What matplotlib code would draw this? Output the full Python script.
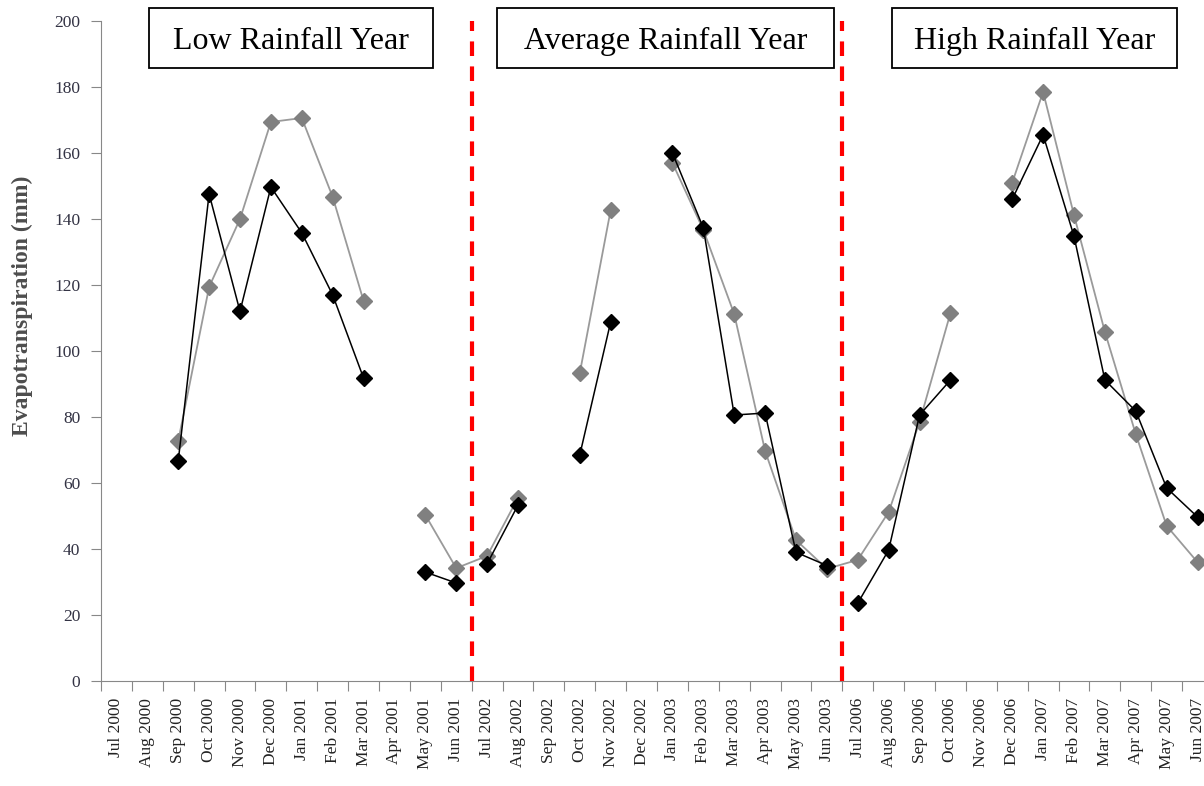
import numpy as np
import matplotlib.pyplot as plt
from matplotlib.patches import Rectangle

months = ["Jul 2000", "Aug 2000", "Sep 2000", "Oct 2000", "Nov 2000", "Dec 2000",
          "Jan 2001", "Feb 2001", "Mar 2001", "Apr 2001", "May 2001", "Jun 2001",
          "Jul 2002", "Aug 2002", "Sep 2002", "Oct 2002", "Nov 2002", "Dec 2002",
          "Jan 2003", "Feb 2003", "Mar 2003", "Apr 2003", "May 2003", "Jun 2003",
          "Jul 2006", "Aug 2006", "Sep 2006", "Oct 2006", "Nov 2006", "Dec 2006",
          "Jan 2007", "Feb 2007", "Mar 2007", "Apr 2007", "May 2007", "Jun 2007"]

nan = np.nan
# black series
et_black = [nan, nan, 66.7, 147.6, 112.0, 149.7, 135.8, 117.0, 91.8, nan, 33.0, 29.7,
            35.5, 53.3, nan, 68.5, 108.8, nan, 160.0, 137.3, 80.6, 81.2, 39.0, 35.0,
            23.6, 39.7, 80.6, 91.2, nan, 146.0, 165.5, 134.8, 91.2, 81.8, 58.5, 49.7]
# grey series
et_grey = [nan, nan, 72.7, 119.4, 140.0, 169.4, 170.6, 146.7, 115.2, nan, 50.3, 34.2,
           37.9, 55.5, nan, 93.3, 142.7, nan, 157.0, 136.7, 111.2, 69.7, 42.7, 34.0,
           36.7, 51.2, 78.5, 111.5, nan, 151.0, 178.5, 141.2, 105.8, 74.8, 47.0, 36.0]

# black line is broken at the period boundaries
black_segments = [(0, 12), (12, 24), (24, 36)]
period_bounds = [11.5, 23.5]
period_names = ["Low Rainfall Year", "Average Rainfall Year", "High Rainfall Year"]
# box extents in pixels (left, right)
boxes_px = [(149, 433), (497, 834), (892, 1177)]

W, H = 1204, 786
plt.rcParams['font.family'] = ['Liberation Serif', 'DejaVu Serif']

fig = plt.figure(figsize=(W / 100, H / 100), dpi=100)
ax = fig.add_axes([101 / W, 105 / H, 1112 / W, 660 / H])

x = np.arange(len(months))
ax.plot(x, et_grey, color="#9a9a9a", lw=1.3, marker="D", ms=8,
        mfc="#808080", mec="#808080", zorder=3)
for a, b in black_segments:
    ax.plot(x[a:b], et_black[a:b], color="black", lw=1.1, marker="D", ms=8,
            mfc="black", mec="black", zorder=4)

for xb in period_bounds:
    ax.plot([xb, xb], [0, 200], color="#ff0000", lw=3, ls=(0, (3.5, 2.5)), zorder=5,
            clip_on=False)

ax.set_xlim(-0.5, 35.5)
ax.set_ylim(0, 200)
ax.set_yticks(np.arange(0, 201, 20))
ax.set_xticks(np.arange(-0.5, 36, 1))
ax.set_xticklabels([])
ax.set_xticks(x, minor=True)
ax.set_xticklabels(months, minor=True, rotation=90, fontsize=12.5, color="#222222")
ax.tick_params(axis="x", which="minor", length=0, pad=12)
ax.tick_params(axis="x", which="major", length=7, color="#888888", direction="out")
ax.tick_params(axis="y", length=7, color="#888888", labelsize=12.5,
               labelcolor="#333344", pad=8)

for s in ["top", "right"]:
    ax.spines[s].set_visible(False)
for s in ["left", "bottom"]:
    ax.spines[s].set_color("#888888")

ax.set_ylabel("Evapotranspiration (mm)", fontsize=17, fontweight="bold",
              color="#4d4d4d")
ax.yaxis.set_label_coords(-0.061, 0.568)

for name, (l, r) in zip(period_names, boxes_px):
    fig.patches.append(Rectangle((l / W, 1 - 68 / H), (r - l) / W, 60 / H,
                                 transform=fig.transFigure, fc="white", ec="black",
                                 lw=1.3, zorder=6))
    fig.text((l + r) / 2 / W, 1 - 49 / H, name, fontsize=23, ha="center",
             va="baseline", zorder=7)

fig.savefig("out.png", dpi=100)
